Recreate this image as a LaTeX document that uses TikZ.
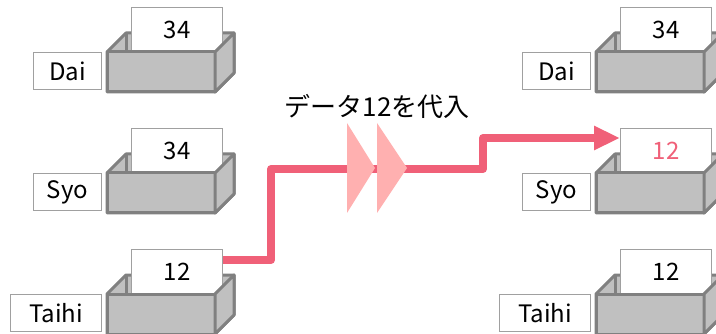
\documentclass[tikz,border=0pt]{standalone}
\usepackage{fontspec}
\setmainfont{Noto Sans CJK JP}
\usetikzlibrary{arrows.meta}
\definecolor{boxfill}{HTML}{C0C0C0}
\definecolor{boxedge}{HTML}{808080}
\definecolor{thinedge}{HTML}{A0A0A0}
\definecolor{flow}{HTML}{F06078}
\definecolor{chev}{HTML}{FFB0B0}
\tikzset{
  crateline/.style={fill=boxfill, draw=boxedge, line width=2.25pt, line join=round},
  card/.style={anchor=north west, fill=white, draw=thinedge, line width=0.75pt,
    minimum width=68.25pt, minimum height=33.75pt, inner sep=0pt,
    font=\fontsize{18}{18}\selectfont},
  namebox/.style={anchor=north west, fill=white, draw=thinedge, line width=0.75pt,
    minimum height=27.75pt, inner sep=0pt, font=\fontsize{18}{18}\selectfont},
  chevron/.style={fill=chev, draw=none},
}
% #1 X, #2 Y, #3 label left x, #4 name, #5 label, #6 card text, #7 card text colour
\newcommand\crateRow[7]{%
  \begin{scope}[shift={(#1,#2)}]
    \path[crateline] (0,0) -- (19,-19) -- (127,-19) -- (127,21) -- (108,40) -- (0,40) -- cycle;
    \draw[boxedge, line width=2.25pt] (19,-19) -- (19,0);
    \node[card, text=#7] (#4card) at (24,-45) {#6};
    \path[crateline] (0,0) rectangle (108,40);
    \path[crateline] (108,0) -- (127,-19) -- (127,21) -- (108,40) -- cycle;
  \end{scope}
  \pgfmathsetmacro\lw{(#1-6-#3)*0.75}
  \node[namebox, minimum width=\lw pt] (#4name) at (#3,#2) {#5};
}
\begin{document}
\begin{tikzpicture}[x=0.75pt, y=-0.75pt]
  \useasboundingbox (0,0) rectangle (716,334);
  \crateRow{107}{52}{33}{ldai}{Dai}{34}{black}
  \crateRow{107}{173}{33}{lsyo}{Syo}{34}{black}
  \crateRow{107}{294}{10}{ltaihi}{Taihi}{12}{black}
  \crateRow{596}{52}{522}{rdai}{Dai}{34}{black}
  \crateRow{596}{173}{522}{rsyo}{Syo}{12}{flow}
  \crateRow{596}{294}{499}{rtaihi}{Taihi}{12}{black}
  \coordinate (start) at (ltaihicard.east |- 0,260);
  \coordinate (tip) at (rsyocard.west |- 0,138);
  \draw[flow, line width=6pt, line join=round, -{Triangle[length=19.5pt,width=17pt]}]
    (start) -- (271,260) -- (271,169) -- (483,169) -- (483,138) -- (tip);
  \fill[chevron] (347,123) -- (375,168) -- (347,213) -- cycle;
  \fill[chevron] (377,123) -- (407,168) -- (377,213) -- cycle;
  \node[font=\fontsize{19.5}{19.5}\selectfont] (title) at (377,106) {データ12を代入};
\end{tikzpicture}
\end{document}
